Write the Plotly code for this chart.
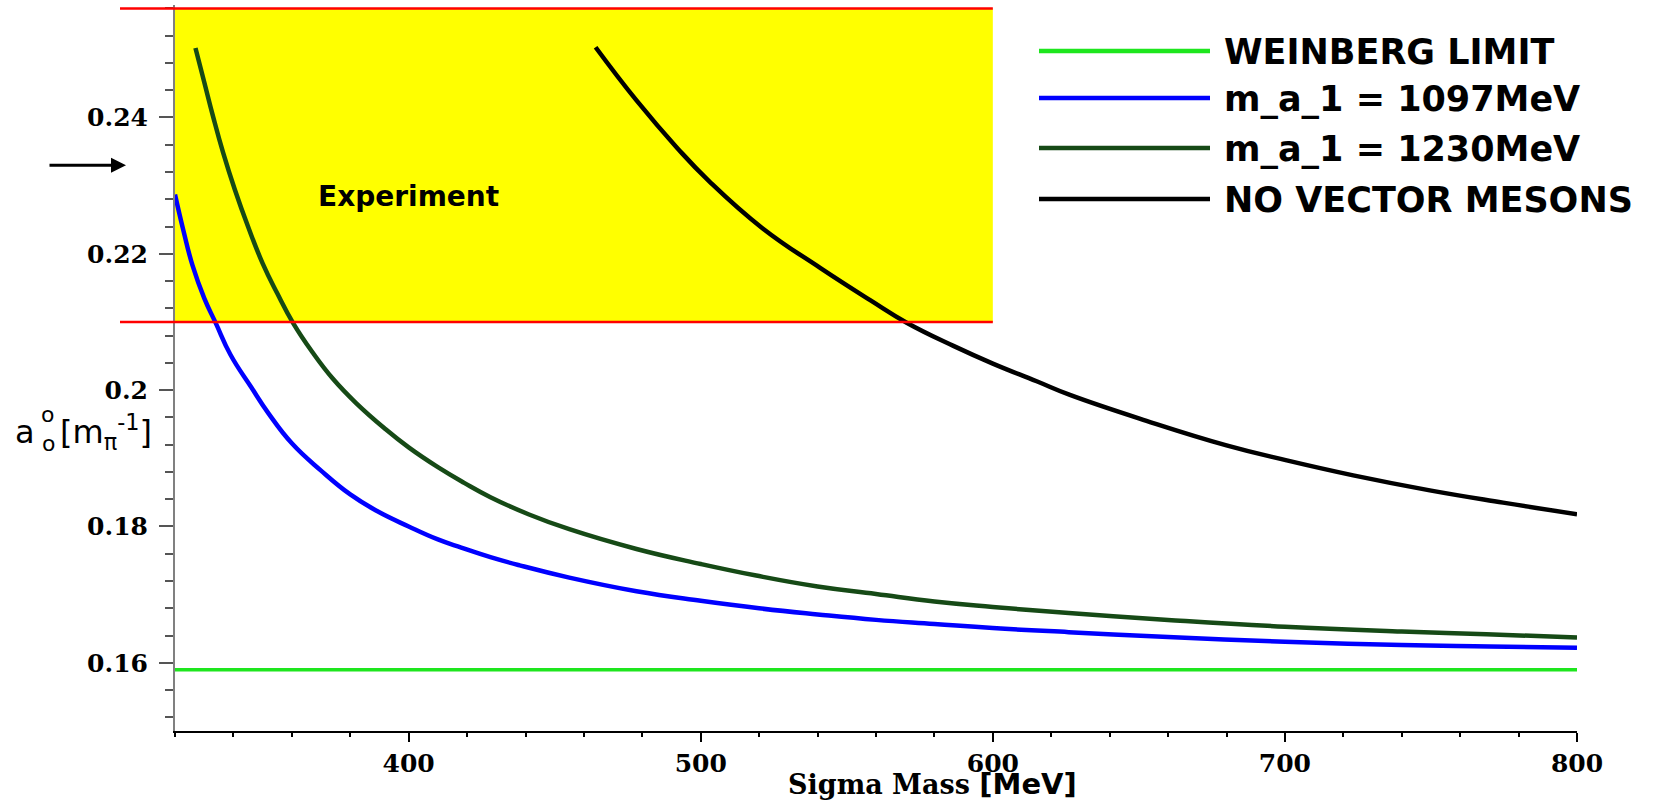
import plotly.graph_objects as go

# ---------------- data ----------------
sigma_weinberg = [320, 800]
a0_weinberg = [0.159, 0.159]

sigma_1097 = [320, 323, 326, 330, 334, 339, 346, 352, 360, 370, 380, 389, 400, 410,
              418, 428, 438, 455, 478, 500, 520, 540, 560, 580, 600, 626, 660, 700,
              740, 770, 800]
a0_1097 = [0.2287, 0.2232, 0.2183, 0.2135, 0.2098, 0.2052, 0.2005, 0.1966, 0.1922,
           0.1882, 0.1847, 0.1823, 0.1800, 0.1781, 0.1769, 0.1755, 0.1743, 0.1725,
           0.1705, 0.1691, 0.1680, 0.1671, 0.1663, 0.1657, 0.1651, 0.1645, 0.1638,
           0.1631, 0.1626, 0.1624, 0.1622]

sigma_1230 = [327, 330, 333, 336.5, 340.5, 345, 350, 355, 360.5, 367, 374, 382, 392,
              400, 410, 419, 428, 441, 455, 478, 500, 519, 540, 560, 580, 600, 626,
              660, 700, 740, 769, 800]
a0_1230 = [0.2502, 0.2452, 0.2402, 0.2348, 0.2294, 0.2240, 0.2186, 0.2142, 0.2098,
           0.2056, 0.2017, 0.1981, 0.1943, 0.1916, 0.1887, 0.1864, 0.1843, 0.1818,
           0.1796, 0.1767, 0.1745, 0.1728, 0.1712, 0.1701, 0.1690, 0.1682, 0.1673,
           0.1663, 0.1653, 0.1646, 0.1642, 0.1637]

sigma_novec = [464, 478, 492, 503, 521, 541, 558, 570.5, 586.5, 600, 615, 626.4, 652.6,
               680, 700.6, 723.4, 749.6, 774.7, 800]
a0_novec = [0.2503, 0.2425, 0.2355, 0.2306, 0.2238, 0.2179, 0.2132, 0.2099, 0.2065,
            0.2039, 0.2013, 0.1993, 0.1955, 0.1919, 0.1897, 0.1875, 0.1853, 0.1835,
            0.1818]

exp_sigma_max = 600
exp_a0_low = 0.210
exp_a0_high = 0.2560
arrow_a0 = 0.233

series_names = ["WEINBERG LIMIT", "m_a_1 = 1097MeV", "m_a_1 = 1230MeV", "NO VECTOR MESONS"]
series_colors = ["#1ee61e", "#0000ff", "#164a16", "#000000"]

x_ticks = [400, 500, 600, 700, 800]
y_ticks = [0.16, 0.18, 0.2, 0.22, 0.24]
y_ticktext = ["0.16", "0.18", "0.2", "0.22", "0.24"]

X_RANGE = [320, 800]
Y_RANGE = [0.15, 0.2565]

# ---------------- layout geometry ----------------
W, H = 1670, 801
PL, PR, PT, PB = 175, 1577, 5, 731


def px_x(p):
    return (p - PL) / (PR - PL)


def px_y(p):
    return (PB - p) / (PB - PT)


fig = go.Figure()
xs = [sigma_weinberg, sigma_1097, sigma_1230, sigma_novec]
ys = [a0_weinberg, a0_1097, a0_1230, a0_novec]
widths = [3.5, 4.5, 4.5, 4.5]
for x, y, name, col, w in zip(xs, ys, series_names, series_colors, widths):
    fig.add_trace(go.Scatter(x=x, y=y, mode="lines", name=name,
                             line=dict(color=col, width=w, shape="spline", smoothing=1.3),
                             showlegend=False))

shapes = []
# experimental band
shapes.append(dict(type="rect", xref="x", yref="y", x0=X_RANGE[0], x1=exp_sigma_max,
                   y0=exp_a0_low, y1=exp_a0_high, fillcolor="#ffff00",
                   line=dict(width=0), layer="below"))
x_exp_paper = (exp_sigma_max - X_RANGE[0]) / (X_RANGE[1] - X_RANGE[0])
for yv in (exp_a0_low, exp_a0_high):
    shapes.append(dict(type="line", xref="paper", yref="y", x0=px_x(120), x1=x_exp_paper,
                       y0=yv, y1=yv, line=dict(color="#ff0000", width=2.5), layer="above"))

annotations = []
# custom legend
legend_rows = [51, 98, 148, 199]
for row, name, col in zip(legend_rows, series_names, series_colors):
    shapes.append(dict(type="line", xref="paper", yref="paper", x0=px_x(1039), x1=px_x(1210),
                       y0=px_y(row), y1=px_y(row), line=dict(color=col, width=4.5)))
    annotations.append(dict(xref="paper", yref="paper", x=px_x(1222), y=px_y(row + 1),
                            xanchor="left", yanchor="middle", showarrow=False, text=name,
                            font=dict(family="DejaVu Sans", size=35, color="black",
                                      weight="bold")))

annotations.append(dict(xref="x", yref="y", x=400, y=0.2284, text="Experiment",
                        showarrow=False, xanchor="center", yanchor="middle",
                        font=dict(family="DejaVu Sans", size=28, color="black",
                                  weight="bold")))

# arrow on the left
annotations.append(dict(xref="paper", yref="y", x=px_x(126), y=arrow_a0, text="",
                        showarrow=True, ax=-78, ay=0, arrowhead=2, arrowsize=1,
                        arrowwidth=3, arrowcolor="black"))

# y-axis title  a_o^o [m_pi^-1]
tfont = dict(family="DejaVu Sans", size=32, color="black")
annotations.append(dict(xref="paper", yref="paper", x=px_x(13), y=px_y(432),
                        xanchor="left", yanchor="middle", showarrow=False, text="a",
                        font=tfont))
annotations.append(dict(xref="paper", yref="paper", x=px_x(47), y=px_y(414),
                        xanchor="center", yanchor="middle", showarrow=False, text="o",
                        font=dict(family="DejaVu Sans", size=22, color="black")))
annotations.append(dict(xref="paper", yref="paper", x=px_x(48), y=px_y(444),
                        xanchor="center", yanchor="middle", showarrow=False, text="o",
                        font=dict(family="DejaVu Sans", size=22, color="black")))
annotations.append(dict(xref="paper", yref="paper", x=px_x(58), y=px_y(432),
                        xanchor="left", yanchor="middle", showarrow=False,
                        text="[m<sub>π</sub><sup>-1</sup>]", font=tfont))

# x-axis title
annotations.append(dict(xref="paper", yref="paper", x=px_x(932), y=px_y(784),
                        xanchor="center", yanchor="middle", showarrow=False,
                        text="<span style='font-family:DejaVu Serif'>Sigma Mass </span>"
                             "<span style='font-family:DejaVu Sans;font-size:29px'>[MeV]</span>",
                        font=dict(family="DejaVu Serif", size=27, color="black",
                                  weight="bold")))

fig.update_layout(
    width=W, height=H,
    margin=dict(l=PL, r=W - PR, t=PT, b=H - PB, pad=0),
    paper_bgcolor="white", plot_bgcolor="white",
    shapes=shapes, annotations=annotations, showlegend=False,
    xaxis=dict(range=X_RANGE, showgrid=False, zeroline=False, showline=True,
               linecolor="black", linewidth=2, ticks="outside", ticklen=9,
               tickwidth=1.5, tickcolor="black", tickvals=x_ticks, automargin=False,
               tickfont=dict(family="DejaVu Serif", size=25, color="black", weight="bold"),
               minor=dict(dtick=20, tick0=320, ticks="outside", ticklen=4,
                          tickcolor="black", tickwidth=1.5, showgrid=False)),
    yaxis=dict(range=Y_RANGE, showgrid=False, zeroline=False, showline=True,
               linecolor="#808080", linewidth=2, ticks="outside", ticklen=14,
               tickwidth=1.5, tickcolor="#555555", tickvals=y_ticks, ticktext=y_ticktext,
               ticklabelstandoff=6, automargin=False,
               tickfont=dict(family="DejaVu Serif", size=25, color="black", weight="bold"),
               minor=dict(dtick=0.004, tick0=0.16, ticks="outside", ticklen=8,
                          tickcolor="#555555", tickwidth=1.5, showgrid=False)),
)

fig.write_html("out.html", config={"displayModeBar": False},
               post_script="document.body.style.margin='0';document.body.style.padding='0';")
